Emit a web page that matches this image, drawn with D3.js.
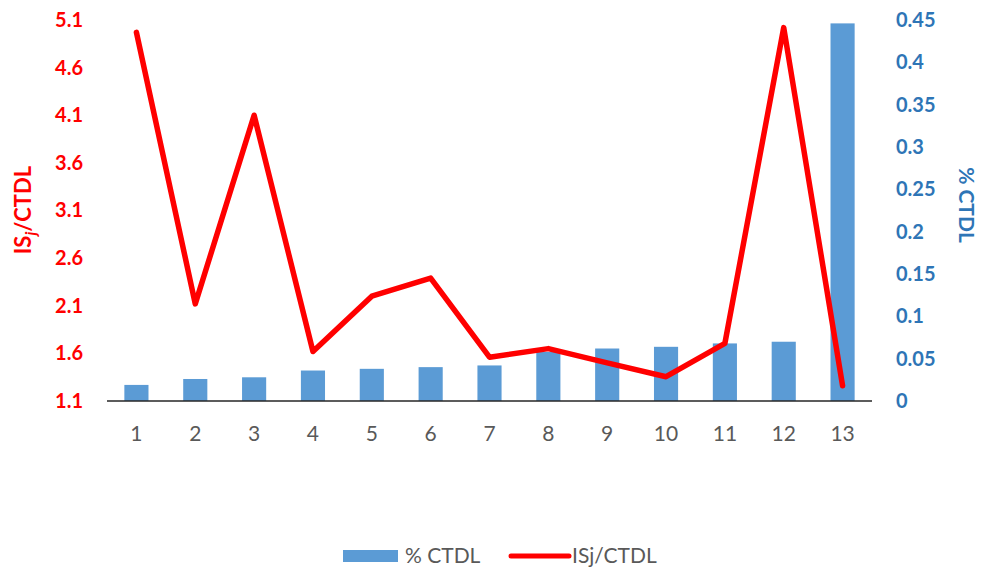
<!DOCTYPE html>
<html>
<head>
<meta charset="utf-8">
<script src="https://cdn.jsdelivr.net/npm/d3@7"></script>
<style>
  body { margin: 0; background: #fff; }
  svg { font-family: Lato, "Open Sans", sans-serif; }
</style>
</head>
<body>
<svg id="chart" width="982" height="573"></svg>
<script>
// data
var categories = ["1","2","3","4","5","6","7","8","9","10","11","12","13"];
var pctCtdl = [0.019, 0.026, 0.028, 0.036, 0.038, 0.040, 0.042, 0.058, 0.062, 0.064, 0.068, 0.070, 0.446];
var isjCtdl = [4.97, 2.12, 4.10, 1.62, 2.20, 2.39, 1.56, 1.65, 1.50, 1.355, 1.705, 5.02, 1.26];
var leftTicks = [1.1, 1.6, 2.1, 2.6, 3.1, 3.6, 4.1, 4.6, 5.1];
var rightTicks = [0, 0.05, 0.1, 0.15, 0.2, 0.25, 0.3, 0.35, 0.4, 0.45];

(function() {
  var svg = d3.select("#chart");
  var plotLeft = 107, plotRight = 872, plotTop = 20, plotBottom = 401;
  var font = "Lato, 'Open Sans', sans-serif";

  var x = d3.scaleBand().domain(categories).range([plotLeft, plotRight]).paddingInner(0.59).paddingOuter(0.295);
  var xc = function(d) { return x(d) + x.bandwidth() / 2; };
  var yL = d3.scaleLinear().domain([1.1, 5.1]).range([plotBottom, plotTop]);
  var yR = d3.scaleLinear().domain([0, 0.45]).range([plotBottom, plotTop]);

  // bars
  svg.append("g").selectAll("rect")
    .data(pctCtdl)
    .enter().append("rect")
    .attr("x", function(d, i) { return x(categories[i]); })
    .attr("width", x.bandwidth())
    .attr("y", function(d) { return yR(d); })
    .attr("height", function(d) { return plotBottom - yR(d); })
    .attr("fill", "#5B9BD5");

  // x axis
  var xAxis = svg.append("g")
    .attr("transform", "translate(0," + plotBottom + ")")
    .call(d3.axisBottom(x).tickSize(0).tickPadding(25));
  xAxis.select(".domain").attr("stroke", "#262626").attr("stroke-width", 1.3).attr("d", "M" + plotLeft + ",0H" + plotRight);
  xAxis.selectAll("text").attr("fill", "#595959").style("font-size", "21px").style("font-family", font);

  // left axis
  var yAxisL = svg.append("g")
    .attr("transform", "translate(" + (plotLeft - 18) + ",0)")
    .call(d3.axisLeft(yL).tickValues(leftTicks).tickSize(0).tickPadding(6).tickFormat(d3.format(".1f")));
  yAxisL.select(".domain").remove();
  yAxisL.selectAll("text").attr("fill", "#FF0000").style("font-size", "20px").style("font-weight", "bold")
    .style("font-family", font);

  // right axis
  var yAxisR = svg.append("g")
    .attr("transform", "translate(" + (plotRight + 18) + ",0)")
    .call(d3.axisRight(yR).tickValues(rightTicks).tickSize(0).tickPadding(6).tickFormat(function(d) { return String(d); }));
  yAxisR.select(".domain").remove();
  yAxisR.selectAll("text").attr("fill", "#2E75B6").style("font-size", "20px").style("font-weight", "bold")
    .style("font-family", font);

  // line
  var line = d3.line()
    .x(function(d, i) { return xc(categories[i]); })
    .y(function(d) { return yL(d); });
  svg.append("path")
    .datum(isjCtdl)
    .attr("d", line)
    .attr("fill", "none")
    .attr("stroke", "#FF0000")
    .attr("stroke-width", 5.5)
    .attr("stroke-linejoin", "round")
    .attr("stroke-linecap", "round");

  // axis titles
  var tL = svg.append("text")
    .attr("transform", "translate(31,210) rotate(-90)")
    .attr("text-anchor", "middle")
    .attr("fill", "#FF0000")
    .style("font-size", "22px").style("font-weight", "bold");
  tL.append("tspan").text("IS");
  tL.append("tspan").text("j").attr("font-style", "italic").attr("dy", 5).style("font-size", "16px");
  tL.append("tspan").text("/CTDL").attr("dy", -5);

  svg.append("text")
    .attr("transform", "translate(959,205) rotate(90)")
    .attr("text-anchor", "middle")
    .attr("fill", "#2E75B6")
    .style("font-size", "21px").style("font-weight", "bold")
    .text("% CTDL");

  // legend
  var lg = svg.append("g").attr("transform", "translate(0,556)");
  lg.append("rect").attr("x", 343).attr("y", -6).attr("width", 55).attr("height", 12).attr("fill", "#5B9BD5");
  lg.append("text").attr("x", 405).attr("y", 0).attr("dy", "0.35em").attr("fill", "#595959")
    .style("font-size", "21px").text("% CTDL");
  lg.append("line").attr("x1", 511).attr("x2", 569).attr("y1", 0).attr("y2", 0)
    .attr("stroke", "#FF0000").attr("stroke-width", 5).attr("stroke-linecap", "round");
  lg.append("text").attr("x", 572).attr("y", 0).attr("dy", "0.35em").attr("fill", "#595959")
    .style("font-size", "21px").text("ISj/CTDL");
})();
</script>
</body>
</html>
